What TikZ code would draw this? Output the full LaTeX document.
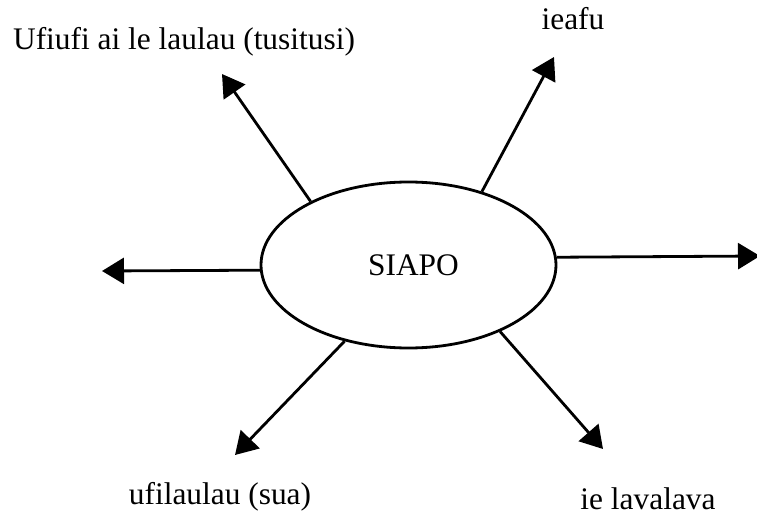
\documentclass[tikz,border=0pt]{standalone}
\usepackage{fontspec}
\setmainfont{Liberation Serif}
\usetikzlibrary{arrows.meta,shapes.geometric}
\tikzset{
  conn/.style={line width=1.4pt,-{Triangle[length=11pt,width=13pt]}},
  lbl/.style={font=\fontsize{15.7pt}{18pt}\selectfont,inner sep=0pt,anchor=base},
  hub/.style={ellipse,draw,line width=1.4pt,minimum width=147.5pt,minimum height=83pt,inner sep=0pt}
}
\begin{document}
\begin{tikzpicture}[x=0.5pt,y=-0.5pt]
\useasboundingbox (0,0) rectangle (757,514);
\node[hub,label={[lbl,anchor=center,xshift=2.5pt]center:SIAPO}] (s) at (408.5,265) {};
\node[lbl] (t1) at (184,49) {Ufiufi ai le laulau (tusitusi)};
\node[lbl] (t2) at (573,29) {ieafu};
\node[lbl] (t3) at (220,504) {ufilaulau (sua)};
\node[lbl] (t4) at (648,509) {ie lavalava};
\coordinate (a1) at (222,74);
\coordinate (a2) at (554,57);
\coordinate (a3) at (760,256);
\coordinate (a4) at (102,271);
\coordinate (a5) at (235,455);
\coordinate (a6) at (603,449);
\draw[conn] (s.147.6) -- (a1);
\draw[conn] (s.45.2) -- (a2);
\draw[conn] (s.3.5) -- (a3);
\draw[conn] (s.182.3) -- (a4);
\draw[conn] (s.230) -- (a5);
\draw[conn] (s.-36.2) -- (a6);
\end{tikzpicture}
\end{document}
